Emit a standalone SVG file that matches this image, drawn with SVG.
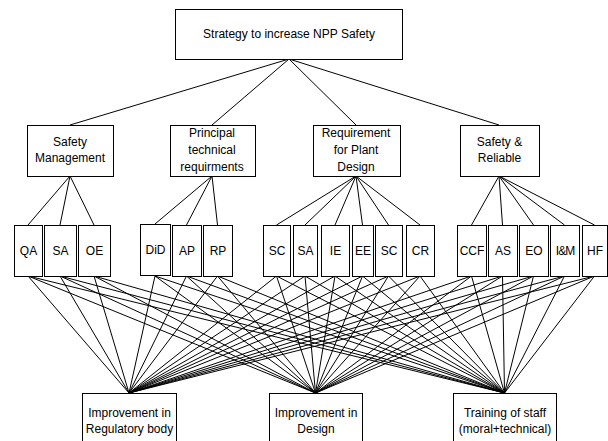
<svg xmlns="http://www.w3.org/2000/svg" width="608" height="441" viewBox="0 0 608 441">
<style>
  rect { fill: #fff; stroke: #000; stroke-width: 1; }
  text { font-family: "Liberation Sans", Arial, sans-serif; font-size: 12px; fill: #000; text-anchor: middle; }
  .c line { stroke: #000; stroke-width: 1; }
</style>
<rect x="0" y="0" width="608" height="441" style="stroke:none;fill:#fff"/>
<g id="connectors" class="c">
  <line x1="289" y1="59" x2="70" y2="125"/>
  <line x1="289" y1="59" x2="212" y2="125"/>
  <line x1="289" y1="59" x2="356" y2="125"/>
  <line x1="289" y1="59" x2="499" y2="125"/>
  <line x1="70" y1="176" x2="28" y2="225"/>
  <line x1="70" y1="176" x2="60" y2="225"/>
  <line x1="70" y1="176" x2="94" y2="225"/>
  <line x1="212" y1="176" x2="155" y2="224"/>
  <line x1="212" y1="176" x2="186.5" y2="225"/>
  <line x1="212" y1="176" x2="217.5" y2="225"/>
  <line x1="356" y1="176" x2="276.5" y2="225"/>
  <line x1="356" y1="176" x2="305" y2="225"/>
  <line x1="356" y1="176" x2="335" y2="225"/>
  <line x1="356" y1="176" x2="362.5" y2="225"/>
  <line x1="356" y1="176" x2="388.5" y2="225"/>
  <line x1="356" y1="176" x2="420" y2="225"/>
  <line x1="499" y1="176" x2="471.5" y2="225"/>
  <line x1="499" y1="176" x2="502.5" y2="225"/>
  <line x1="499" y1="176" x2="533.5" y2="225"/>
  <line x1="499" y1="176" x2="564.5" y2="225"/>
  <line x1="499" y1="176" x2="594.5" y2="225"/>
  <!-- bottom fan-in -->
  <g id="to-reg">
    <line x1="28" y1="276" x2="129" y2="393"/><line x1="60" y1="276" x2="129" y2="393"/><line x1="94" y1="276" x2="129" y2="393"/>
    <line x1="155" y1="276" x2="129" y2="393"/><line x1="186.5" y1="276" x2="129" y2="393"/><line x1="217.5" y1="276" x2="129" y2="393"/>
    <line x1="276.5" y1="276" x2="129" y2="393"/><line x1="305" y1="276" x2="129" y2="393"/><line x1="335" y1="276" x2="129" y2="393"/>
    <line x1="362.5" y1="276" x2="129" y2="393"/><line x1="388.5" y1="276" x2="129" y2="393"/><line x1="420" y1="276" x2="129" y2="393"/>
    <line x1="471.5" y1="276" x2="129" y2="393"/><line x1="502.5" y1="276" x2="129" y2="393"/><line x1="533.5" y1="276" x2="129" y2="393"/>
    <line x1="564.5" y1="276" x2="129" y2="393"/><line x1="594.5" y1="276" x2="129" y2="393"/>
  </g>
  <g id="to-design">
    <line x1="28" y1="276" x2="315.5" y2="393"/><line x1="60" y1="276" x2="315.5" y2="393"/><line x1="94" y1="276" x2="315.5" y2="393"/>
    <line x1="155" y1="276" x2="315.5" y2="393"/><line x1="186.5" y1="276" x2="315.5" y2="393"/><line x1="217.5" y1="276" x2="315.5" y2="393"/>
    <line x1="276.5" y1="276" x2="315.5" y2="393"/><line x1="305" y1="276" x2="315.5" y2="393"/><line x1="335" y1="276" x2="315.5" y2="393"/>
    <line x1="362.5" y1="276" x2="315.5" y2="393"/><line x1="388.5" y1="276" x2="315.5" y2="393"/><line x1="420" y1="276" x2="315.5" y2="393"/>
    <line x1="471.5" y1="276" x2="315.5" y2="393"/><line x1="502.5" y1="276" x2="315.5" y2="393"/><line x1="533.5" y1="276" x2="315.5" y2="393"/>
    <line x1="564.5" y1="276" x2="315.5" y2="393"/><line x1="594.5" y1="276" x2="315.5" y2="393"/>
  </g>
  <g id="to-training">
    <line x1="28" y1="276" x2="504.5" y2="393"/><line x1="60" y1="276" x2="504.5" y2="393"/><line x1="94" y1="276" x2="504.5" y2="393"/>
    <line x1="155" y1="276" x2="504.5" y2="393"/><line x1="186.5" y1="276" x2="504.5" y2="393"/><line x1="217.5" y1="276" x2="504.5" y2="393"/>
    <line x1="276.5" y1="276" x2="504.5" y2="393"/><line x1="305" y1="276" x2="504.5" y2="393"/><line x1="335" y1="276" x2="504.5" y2="393"/>
    <line x1="362.5" y1="276" x2="504.5" y2="393"/><line x1="388.5" y1="276" x2="504.5" y2="393"/><line x1="420" y1="276" x2="504.5" y2="393"/>
    <line x1="471.5" y1="276" x2="504.5" y2="393"/><line x1="502.5" y1="276" x2="504.5" y2="393"/><line x1="533.5" y1="276" x2="504.5" y2="393"/>
    <line x1="564.5" y1="276" x2="504.5" y2="393"/><line x1="594.5" y1="276" x2="504.5" y2="393"/>
  </g>
</g>
<g id="root"><rect x="175.5" y="9.5" width="227" height="50"/><text x="289" y="38">Strategy to increase NPP Safety</text></g>
<g id="safety-management"><rect x="27.5" y="125.5" width="86" height="51"/><text x="70" y="146">Safety</text><text x="70" y="162">Management</text></g>
<g id="principal"><rect x="170.5" y="125.5" width="85" height="51"/><text x="212" y="137">Principal</text><text x="212" y="154">technical</text><text x="212" y="171">requirments</text></g>
<g id="requirement"><rect x="313.5" y="125.5" width="87" height="51"/><text x="356" y="137">Requirement</text><text x="356" y="154">for Plant</text><text x="356" y="171">Design</text></g>
<g id="safety-reliable"><rect x="460.5" y="125.5" width="79" height="51"/><text x="499.5" y="146">Safety &amp;</text><text x="499.5" y="162">Reliable</text></g>
<g id="qa"><rect x="14.5" y="225.5" width="28" height="51"/><text x="28.5" y="255">QA</text></g>
<g id="sa1"><rect x="44.5" y="225.5" width="32" height="51"/><text x="60.5" y="255">SA</text></g>
<g id="oe"><rect x="78.5" y="225.5" width="32" height="51"/><text x="94.5" y="255">OE</text></g>
<g id="did"><rect x="140.5" y="224.5" width="30" height="51"/><text x="155.5" y="254">DiD</text></g>
<g id="ap"><rect x="172.5" y="225.5" width="29" height="51"/><text x="187" y="255">AP</text></g>
<g id="rp"><rect x="203.5" y="225.5" width="29" height="51"/><text x="218" y="255">RP</text></g>
<g id="sc1"><rect x="263.5" y="225.5" width="27" height="51"/><text x="277" y="255">SC</text></g>
<g id="sa2"><rect x="293.5" y="225.5" width="24" height="51"/><text x="305.5" y="255">SA</text></g>
<g id="ie"><rect x="321.5" y="225.5" width="28" height="51"/><text x="335.5" y="255">IE</text></g>
<g id="ee"><rect x="352.5" y="225.5" width="21" height="51"/><text x="363" y="255">EE</text></g>
<g id="sc2"><rect x="375.5" y="225.5" width="27" height="51"/><text x="389" y="255">SC</text></g>
<g id="cr"><rect x="406.5" y="225.5" width="28" height="51"/><text x="420.5" y="255">CR</text></g>
<g id="ccf"><rect x="457.5" y="225.5" width="29" height="51"/><text x="472" y="255">CCF</text></g>
<g id="as"><rect x="488.5" y="225.5" width="29" height="51"/><text x="503" y="255">AS</text></g>
<g id="eo"><rect x="519.5" y="225.5" width="29" height="51"/><text x="534" y="255">EO</text></g>
<g id="im"><rect x="550.5" y="225.5" width="29" height="51"/><text x="565" y="255" letter-spacing="-1">I&amp;M</text></g>
<g id="hf"><rect x="582.5" y="225.5" width="25" height="51"/><text x="595" y="255">HF</text></g>
<g id="regulatory"><rect x="82.5" y="393.5" width="94" height="60"/><text x="129.5" y="417">Improvement in</text><text x="129.5" y="433">Regulatory body</text></g>
<g id="design"><rect x="269.5" y="393.5" width="93" height="60"/><text x="316" y="417">Improvement in</text><text x="316" y="433">Design</text></g>
<g id="training"><rect x="453.5" y="393.5" width="103" height="60"/><text x="505" y="417">Training of staff</text><text x="505" y="433">(moral+technical)</text></g>
</svg>
